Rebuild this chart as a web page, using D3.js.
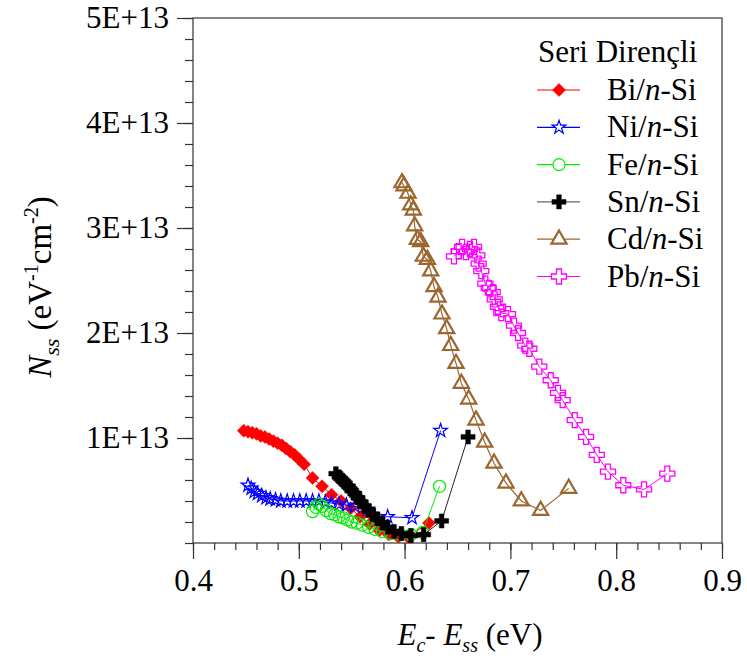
<!DOCTYPE html>
<html>
<head>
<meta charset="utf-8">
<script src="https://cdn.jsdelivr.net/npm/d3@7"></script>
<style>
  body { margin: 0; background: #fff; }
  svg text { font-family: 'Times New Roman', Times, serif; fill: #000; }
</style>
</head>
<body>
<div id="chart"></div>
<script>
// N_ss values are in units of 1E+13 eV^-1 cm^-2
var biX = [0.448,0.452,0.456,0.460,0.464,0.468,0.472,0.476,0.480,0.484,0.488,0.492,0.496,0.500,0.505,0.513,0.522,0.531,0.540,0.549,0.558,0.567,0.576,0.585,0.594,0.603,0.623];
var biY = [1.07,1.06,1.05,1.04,1.02,1.01,0.99,0.97,0.95,0.93,0.90,0.87,0.84,0.80,0.75,0.62,0.54,0.46,0.40,0.33,0.25,0.18,0.12,0.08,0.06,0.06,0.19];

var niX = [0.452,0.455,0.458,0.461,0.465,0.469,0.473,0.478,0.483,0.489,0.495,0.501,0.507,0.513,0.519,0.525,0.531,0.538,0.545,0.553,0.565,0.584,0.607,0.634];
var niY = [0.55,0.52,0.49,0.47,0.45,0.43,0.42,0.41,0.40,0.40,0.40,0.40,0.40,0.40,0.40,0.39,0.38,0.37,0.36,0.35,0.32,0.25,0.24,1.07];

var feX = [0.513,0.516,0.519,0.522,0.526,0.530,0.534,0.538,0.542,0.546,0.550,0.555,0.560,0.566,0.572,0.579,0.587,0.596,0.606,0.617,0.633];
var feY = [0.30,0.34,0.37,0.35,0.31,0.28,0.27,0.25,0.24,0.22,0.20,0.19,0.17,0.15,0.13,0.11,0.09,0.08,0.08,0.10,0.54];

var snX = [0.535,0.538,0.541,0.544,0.547,0.550,0.553,0.556,0.559,0.562,0.566,0.570,0.574,0.579,0.584,0.590,0.597,0.606,0.618,0.635,0.660];
var snY = [0.66,0.63,0.60,0.57,0.54,0.50,0.47,0.43,0.39,0.35,0.31,0.27,0.23,0.19,0.15,0.11,0.09,0.07,0.08,0.21,1.01];

var cdX = [0.5975,0.5994,0.6032,0.6058,0.6082,0.6095,0.6120,0.6152,0.6177,0.6215,0.6247,0.6278,0.6316,0.6353,0.6398,0.6436,0.6486,0.6536,0.6606,0.6675,0.6757,0.6845,0.6958,0.7103,0.7286,0.7551];
var cdY = [3.43,3.40,3.33,3.22,3.17,3.02,2.89,2.87,2.73,2.70,2.59,2.44,2.34,2.18,2.04,1.88,1.71,1.52,1.37,1.17,0.96,0.76,0.57,0.40,0.31,0.52];

var pbX = [0.6467,0.6511,0.6543,0.6580,0.6618,0.6656,0.6687,0.6700,0.6725,0.6763,0.6795,0.6833,0.6852,0.6883,0.6914,0.6977,0.7034,0.7072,0.7141,0.7179,0.7273,0.7381,0.7450,0.7494,0.7608,0.7715,0.7816,0.7922,0.8067,0.8263,0.8483];
var pbY = [2.73,2.78,2.82,2.77,2.80,2.82,2.74,2.66,2.59,2.47,2.43,2.39,2.32,2.25,2.19,2.18,2.07,2.00,1.88,1.85,1.68,1.55,1.43,1.36,1.17,1.01,0.84,0.68,0.55,0.51,0.66];

var seriesNames = ["Bi", "Ni", "Fe", "Sn", "Cd", "Pb"];
var xTicks = [0.4, 0.5, 0.6, 0.7, 0.8, 0.9];
var yTicks = [1, 2, 3, 4, 5];

var width = 747, height = 659;
var pLeft = 193, pRight = 722, pTop = 18, pBottom = 543;
var serif = "'Times New Roman', Times, serif";

var svg = d3.select("#chart").append("svg")
    .attr("width", width)
    .attr("height", height)
    .attr("font-family", serif);

var x = d3.scaleLinear().domain([0.4, 0.9]).range([pLeft, pRight]);
var y = d3.scaleLinear().domain([0, 5]).range([pBottom, pTop]);

// marker shapes
var crossOutline = function(s) { // open plus, for Pb
    var a = s / 6, b = s / 2;
    return "M" + (-a) + "," + (-b) + "H" + a + "V" + (-a) + "H" + b + "V" + a + "H" + a + "V" + b +
        "H" + (-a) + "V" + a + "H" + (-b) + "V" + (-a) + "H" + (-a) + "Z";
};
var symPath = {
    Bi: function() { return d3.symbol(d3.symbolSquare, 85)(); },
    Ni: function() { return d3.symbol(d3.symbolStar, 58)(); },
    Fe: function() { return d3.symbol(d3.symbolCircle, 115)(); },
    Sn: function() { return d3.symbol(d3.symbolCross, 110)(); },
    Cd: function() { return d3.symbol(d3.symbolTriangle, 100)(); },
    Pb: function() { return crossOutline(15); }
};
var styles = {
    Bi: { color: "#ff0000", fill: "#ff0000", sw: 0.5, rot: 45, lw: 1 },
    Ni: { color: "#0000ff", fill: "none", sw: 1.2, rot: 0, lw: 1 },
    Fe: { color: "#00ee00", fill: "none", sw: 1.2, rot: 0, lw: 1 },
    Sn: { color: "#000000", fill: "#000000", sw: 0.5, rot: 0, lw: 1, lineColor: "#222" },
    Cd: { color: "#9c6631", fill: "none", sw: 2.2, rot: 0, lw: 1.2 },
    Pb: { color: "#ff00ff", fill: "none", sw: 1.3, rot: 0, lw: 1 }
};

var series = [
    { name: "Bi", xs: biX, ys: biY },
    { name: "Ni", xs: niX, ys: niY },
    { name: "Fe", xs: feX, ys: feY },
    { name: "Sn", xs: snX, ys: snY },
    { name: "Cd", xs: cdX, ys: cdY },
    { name: "Pb", xs: pbX, ys: pbY }
];

// frame
svg.append("rect")
    .attr("x", pLeft).attr("y", pTop)
    .attr("width", pRight - pLeft).attr("height", pBottom - pTop)
    .attr("fill", "none").attr("stroke", "#444").attr("stroke-width", 1.3);

// minor ticks
var minorX = d3.range(0.4, 0.9001, 0.02);
var minorY = d3.range(0, 5.001, 0.2);
svg.append("g").attr("transform", "translate(0," + pBottom + ")")
    .call(d3.axisBottom(x).tickValues(minorX).tickSize(7).tickFormat(""))
    .call(g => g.select(".domain").remove());
svg.append("g").attr("transform", "translate(" + pLeft + ",0)")
    .call(d3.axisLeft(y).tickValues(minorY).tickSize(8).tickFormat(""))
    .call(g => g.select(".domain").remove());

// major ticks + labels
var xAxis = svg.append("g").attr("transform", "translate(0," + pBottom + ")")
    .call(d3.axisBottom(x).tickValues(xTicks).tickSize(16).tickPadding(10).tickFormat(d3.format(".1f")));
xAxis.select(".domain").remove();
xAxis.attr("font-family", serif).attr("font-size", 31);

var yAxis = svg.append("g").attr("transform", "translate(" + pLeft + ",0)")
    .call(d3.axisLeft(y).tickValues(yTicks).tickSize(16).tickPadding(8).tickFormat(d => d + "E+13"));
yAxis.select(".domain").remove();
yAxis.attr("font-family", serif).attr("font-size", 31);
svg.selectAll(".tick line").attr("stroke", "#333").attr("stroke-width", 1.2);

// series
var line = d3.line().x(d => x(d[0])).y(d => y(d[1]));
series.forEach(function(s) {
    var st = styles[s.name];
    var pts = s.xs.map((v, i) => [v, s.ys[i]]);
    var g = svg.append("g");
    g.append("path")
        .attr("d", line(pts))
        .attr("fill", "none")
        .attr("stroke", st.lineColor || st.color)
        .attr("stroke-width", st.lw);
    g.selectAll("path.m").data(pts).enter().append("path")
        .attr("class", "m")
        .attr("d", symPath[s.name]())
        .attr("transform", d => "translate(" + x(d[0]) + "," + y(d[1]) + ") rotate(" + st.rot + ")")
        .attr("fill", st.fill)
        .attr("stroke", st.color)
        .attr("stroke-width", st.sw);
});

// legend
var legend = svg.append("g");
legend.append("text")
    .attr("x", 538).attr("y", 62)
    .style("font-size", "31px")
    .text("Seri Dirençli");
seriesNames.forEach(function(n, i) {
    var st = styles[n];
    var cy = 90 + i * 37.3;
    legend.append("line")
        .attr("x1", 537).attr("x2", 580).attr("y1", cy).attr("y2", cy)
        .attr("stroke", n == "Sn" ? "#666" : st.color).attr("stroke-width", 1.2);
    legend.append("path")
        .attr("d", symPath[n]())
        .attr("transform", "translate(559," + cy + ") rotate(" + st.rot + ")")
        .attr("fill", st.fill == "none" ? "#fff" : st.fill)
        .attr("stroke", st.color)
        .attr("stroke-width", st.sw);
    var t = legend.append("text")
        .attr("x", 607).attr("y", cy + 10)
        .style("font-size", "31px");
    t.append("tspan").text(n + "/");
    t.append("tspan").style("font-style", "italic").text("n");
    t.append("tspan").text("-Si");
});

// x axis title
var xt = svg.append("text")
    .attr("x", 470).attr("y", 645)
    .attr("text-anchor", "middle")
    .style("font-size", "31px");
xt.append("tspan").style("font-style", "italic").text("E");
xt.append("tspan").style("font-style", "italic").style("font-size", "20px").attr("dy", 7).text("c");
xt.append("tspan").attr("dy", -7).text("- ");
xt.append("tspan").style("font-style", "italic").text("E");
xt.append("tspan").style("font-style", "italic").style("font-size", "20px").attr("dy", 7).text("ss");
xt.append("tspan").attr("dy", -7).text(" (eV)");

// y axis title
var yt = svg.append("text")
    .attr("transform", "translate(51,287) rotate(-90)")
    .attr("text-anchor", "middle")
    .style("font-size", "33px");
yt.append("tspan").style("font-style", "italic").text("N");
yt.append("tspan").style("font-style", "italic").style("font-size", "22px").attr("dy", 8).text("ss");
yt.append("tspan").attr("dy", -8).text(" (eV");
yt.append("tspan").style("font-size", "20px").attr("dy", -13).text("-1");
yt.append("tspan").attr("dy", 13).text("cm");
yt.append("tspan").style("font-size", "20px").attr("dy", -13).text("-2");
yt.append("tspan").attr("dy", 13).text(")");
</script>
</body>
</html>
